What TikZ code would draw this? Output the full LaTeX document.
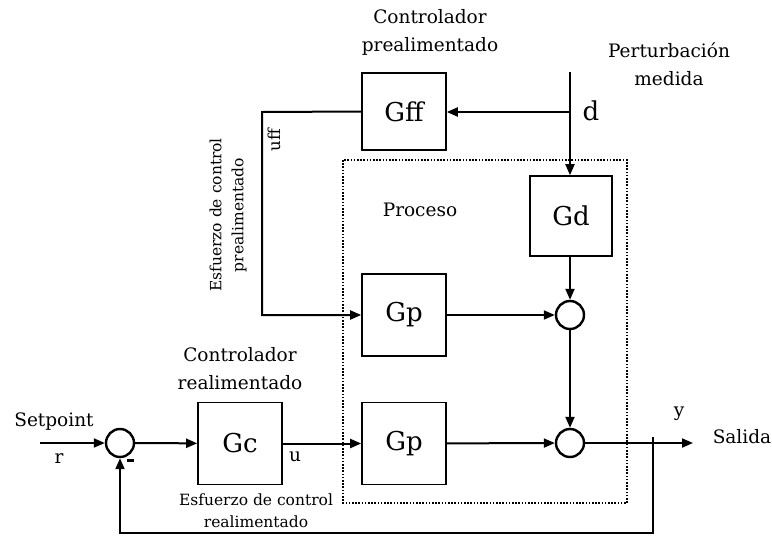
\documentclass[tikz,border=0pt]{standalone}
\usepackage{fontspec}
\setmainfont{DejaVu Serif}
\usetikzlibrary{arrows.meta}
\begin{document}
\begin{tikzpicture}[x=1pt,y=-1pt,
  blk/.style={draw,line width=1.6pt,minimum width=84pt,minimum height=82pt,inner sep=0pt,font=\fontsize{26}{30}\selectfont},
  sumc/.style={draw,circle,line width=2.4pt,minimum size=28pt,inner sep=0pt},
  sig/.style={line width=2pt,-{Triangle[length=11pt,width=9pt]}},
  lbl/.style={font=\fontsize{18.5}{28}\selectfont,align=center,inner sep=0pt},
  sml/.style={font=\fontsize{15.5}{22}\selectfont,align=center,inner sep=0pt}]
\useasboundingbox (0,0) rectangle (772,536);
% process boundary
\draw[line width=1.6pt,dash pattern=on 1.6pt off 1.6pt] (343,160) rectangle (627,503);
% blocks
\node[blk,minimum height=77pt] (gff) at (404,111.5) {Gff};
\node[blk,minimum width=82pt,minimum height=80pt] (gd) at (571,216) {Gd};
\node[blk] (gp1) at (404,315) {Gp};
\node[blk] (gp2) at (404,443.5) {Gp};
\node[blk] (gc) at (240,443.5) {Gc};
\node[sumc] (s1) at (120,443) {};
\node[sumc] (s2) at (570,315) {};
\node[sumc] (s3) at (570,443) {};
% connectors
\coordinate (dtop) at (570,72);
\coordinate (dbr) at (570,112);
\coordinate (ffc) at (262,112);
\coordinate (out) at (693,443);
\coordinate (fb) at (653,437);
\coordinate (fbc) at (653,533);
\coordinate (in) at (40,443);
\draw[sig] (dtop) -- (dtop |- gd.north);
\draw[sig] (dbr) -- (gff.east |- dbr);
\draw[sig,line join=miter] (gff.west) -- (ffc) |- (gp1.west);
\draw[sig] (gp1) -- (s2);
\draw[sig] (gd.south -| s2) -- (s2);
\draw[sig] (s2) -- (s3);
\draw[sig] (gp2) -- (s3);
\draw[sig] (s3) -- (out);
\draw[sig,line join=miter] (fb) -- (fbc) -| (s1.south);
\draw[sig] (in) -- (s1);
\draw[sig] (s1) -- (gc);
\draw[sig] (gc) -- (gp2);
% labels
\node[lbl] (t1) at (430,32) {Controlador\\prealimentado};
\node[lbl] (t2) at (669,64) {Perturbación\\medida};
\node[font=\fontsize{26}{30}\selectfont,inner sep=0pt] (dl) at (591,111) {d};
\node[font=\fontsize{16.5}{22}\selectfont,inner sep=0pt,rotate=90] (uff) at (274,140) {uff};
\node[sml,rotate=90] (efp) at (228,215) {Esfuerzo de control\\prealimentado};
\node[lbl] (proc) at (420,210) {Proceso};
\node[lbl] (t3) at (240,369) {Controlador\\realimentado};
\node[lbl] (sp) at (54,422) {Setpoint};
\node[lbl] (r) at (59,459) {r};
\fill (127,458.5) rectangle (134,462);
\node[lbl] (u) at (295,457) {u};
\node[sml] (efr) at (256,511) {Esfuerzo de control\\realimentado};
\node[lbl] (y) at (679,414) {y};
\node[lbl] (sal) at (742,437) {Salida};
\end{tikzpicture}
\end{document}
